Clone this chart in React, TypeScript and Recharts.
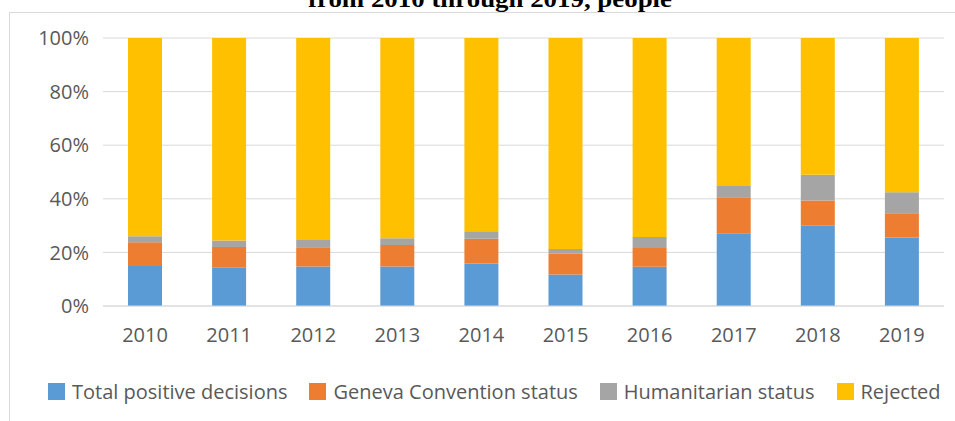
import { BarChart, Bar, XAxis, YAxis, CartesianGrid } from "recharts";

// Share of each outcome per year
const years = ["2010", "2011", "2012", "2013", "2014", "2015", "2016", "2017", "2018", "2019"];
const totalPositive = [14.9, 14.3, 14.7, 14.7, 15.9, 11.8, 14.6, 27.1, 29.9, 25.6];
const geneva = [8.9, 7.7, 7.2, 8.1, 9.2, 7.7, 7.0, 13.5, 9.5, 9.0];
const humanitarian = [2.2, 2.4, 2.7, 2.5, 2.8, 1.8, 4.1, 4.2, 9.6, 7.8];
const rejected = [74.0, 75.6, 75.4, 74.7, 72.1, 78.7, 74.3, 55.2, 51.0, 57.6];
const yTicks = [0, 20, 40, 60, 80, 100];

const series = [
  { key: "totalPositive", name: "Total positive decisions", color: "#5B9BD5" },
  { key: "geneva", name: "Geneva Convention status", color: "#ED7D31" },
  { key: "humanitarian", name: "Humanitarian status", color: "#A5A5A5" },
  { key: "rejected", name: "Rejected", color: "#FFC000" },
];

const data = years.map((year, i) => ({
  year,
  totalPositive: totalPositive[i],
  geneva: geneva[i],
  humanitarian: humanitarian[i],
  rejected: rejected[i],
}));

const FONT = "'Open Sans', sans-serif";
const TEXT = "#595959";

export default function App() {
  return (
    <div style={{ position: "absolute", left: 0, top: 0, width: 955, height: 421, overflow: "hidden", background: "#fff" }}>
      <svg width={955} height={20} style={{ position: "absolute", left: 0, top: 0 }}>
        <text x={308} y={7} textLength={364} lengthAdjust="spacingAndGlyphs"
          style={{ fontFamily: "'Liberation Serif', 'Times New Roman', serif", fontWeight: "bold", fontSize: 24, fill: "#000" }}>
          from 2010 through 2019, people
        </text>
      </svg>
      <div style={{ position: "absolute", left: 9, top: 12, width: 960, height: 420, borderLeft: "1px solid #d9d9d9", borderTop: "1px solid #d9d9d9" }} />
      <div style={{ position: "absolute", left: 0, top: 0 }}>
        <BarChart width={955} height={421} data={data} margin={{ top: 38, right: 11, bottom: 85, left: 0 }} barSize={34}>
          <CartesianGrid vertical={false} stroke="#d9d9d9" />
          <XAxis dataKey="year" height={30} axisLine={{ stroke: "#d9d9d9" }} tickLine={false} tickSize={0} tickMargin={22}
            tick={{ fill: TEXT, fontSize: 20, fontFamily: FONT }} />
          <YAxis domain={[0, 100]} ticks={yTicks} width={103} axisLine={false} tickLine={false} tickSize={0} tickMargin={14}
            tickFormatter={(v: number) => `${v}%`} tick={{ fill: TEXT, fontSize: 20, fontFamily: FONT }} />
          {series.map((s) => (
            <Bar key={s.key} dataKey={s.key} name={s.name} stackId="a" fill={s.color} isAnimationActive={false} />
          ))}
        </BarChart>
      </div>
      <div style={{ position: "absolute", left: 48, top: 378, display: "flex", alignItems: "center", fontFamily: FONT, fontSize: 20, color: TEXT, whiteSpace: "nowrap" }}>
        {series.map((s) => (
          <div key={s.key} style={{ display: "flex", alignItems: "center", marginRight: 22 }}>
            <span style={{ width: 17, height: 17, background: s.color, display: "inline-block", marginRight: 7 }} />
            <span>{s.name}</span>
          </div>
        ))}
      </div>
    </div>
  );
}
